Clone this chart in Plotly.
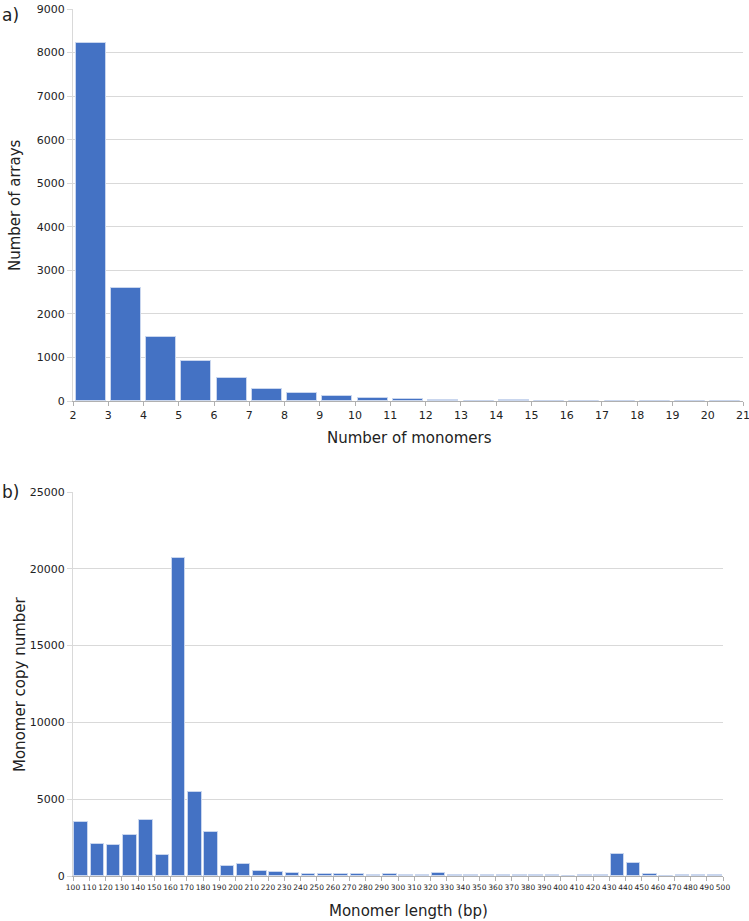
import plotly.graph_objects as go

# ---- Data (a) ----
monomer_bins = [2, 3, 4, 5, 6, 7, 8, 9, 10, 11, 12, 13, 14, 15, 16, 17, 18, 19, 20]
array_counts = [8220, 2600, 1480, 920, 520, 275, 176, 115, 76, 39, 30, 10, 20, 8, 7, 5, 3, 2, 3]
monomer_ticks = list(range(2, 22))

# ---- Data (b) ----
length_bins = list(range(100, 500, 10))
copy_numbers = [3500, 2110, 2000, 2650, 3670, 1370, 20700, 5500, 2870, 650,
                780, 310, 260, 200, 150, 120, 120, 100, 90, 100,
                60, 50, 200, 80, 50, 50, 40, 50, 50, 80,
                30, 40, 50, 1460, 870, 100, 20, 40, 40, 40]
length_ticks = list(range(100, 510, 10))

BAR = "#4472C4"
GRID = "#d9d9d9"
FONT = "DejaVu Sans"
W, H = 749, 921

fig = go.Figure()
fig.add_trace(go.Bar(
    x=[b + 0.5 for b in monomer_bins], y=array_counts, width=0.85,
    marker=dict(color=BAR, line=dict(color="#c9d6ee", width=1)),
    xaxis="x", yaxis="y", showlegend=False))
fig.add_trace(go.Bar(
    x=[b + 5 for b in length_bins], y=copy_numbers, width=8.4,
    marker=dict(color=BAR, line=dict(color="#c9d6ee", width=1)),
    xaxis="x2", yaxis="y2", showlegend=False))

def px_x(p):
    return p / W

def px_y(p):
    return 1 - p / H

fig.update_layout(
    width=W, height=H, margin=dict(l=0, r=0, t=0, b=0, autoexpand=False),
    paper_bgcolor="white", plot_bgcolor="white",
    font=dict(family=FONT, color="#222222"),
    bargap=0,
    xaxis=dict(domain=[px_x(73), px_x(743)], range=[2, 21], tickvals=monomer_ticks,
               ticks="outside", ticklen=4, tickcolor="#b0b0b0", showgrid=False,
               showline=True, linecolor="#b0b0b0", tickfont=dict(size=11, color="#222"),
               anchor="y", zeroline=False, automargin=False, ticklabeloverflow="allow"),
    yaxis=dict(domain=[px_y(401), px_y(9)], range=[0, 9000], dtick=1000, tickformat="d",
               showgrid=True, gridcolor=GRID, showline=True, linecolor=GRID,
               ticks="outside", ticklen=5, tickcolor=GRID,
               tickfont=dict(size=11, color="#222"), anchor="x", zeroline=False,
               automargin=False, ticklabeloverflow="allow"),
    xaxis2=dict(domain=[px_x(73), px_x(723)], range=[100, 500], tickvals=length_ticks,
                ticks="outside", ticklen=4, tickcolor="#b0b0b0", showgrid=False,
                showline=True, linecolor="#b0b0b0", tickfont=dict(size=7.5, color="#222"),
                tickangle=0, anchor="y2", zeroline=False, automargin=False,
                ticklabeloverflow="allow"),
    yaxis2=dict(domain=[px_y(876), px_y(492)], range=[0, 25000], dtick=5000, tickformat="d",
                showgrid=True, gridcolor=GRID, showline=True, linecolor=GRID,
                ticks="outside", ticklen=5, tickcolor=GRID,
                tickfont=dict(size=11, color="#222"), anchor="x2", zeroline=False,
                automargin=False, ticklabeloverflow="allow"),
)

annos = [
    dict(text="a)", x=px_x(0), y=px_y(15), xanchor="left", yanchor="middle", font=dict(size=17)),
    dict(text="b)", x=px_x(0), y=px_y(492), xanchor="left", yanchor="middle", font=dict(size=17)),
    dict(text="Number of arrays", x=px_x(15), y=px_y(205), textangle=-90,
         xanchor="center", yanchor="middle", font=dict(size=15)),
    dict(text="Number of monomers", x=px_x(409), y=px_y(438),
         xanchor="center", yanchor="middle", font=dict(size=15)),
    dict(text="Monomer copy number", x=px_x(20), y=px_y(684), textangle=-90,
         xanchor="center", yanchor="middle", font=dict(size=15)),
    dict(text="Monomer length (bp)", x=px_x(408), y=px_y(911),
         xanchor="center", yanchor="middle", font=dict(size=15)),
]
for a in annos:
    fig.add_annotation(xref="paper", yref="paper", showarrow=False, **a)

fig.write_html("out.html", config={"displayModeBar": False},
               post_script="document.body.style.margin='0';document.body.style.overflow='hidden';")
